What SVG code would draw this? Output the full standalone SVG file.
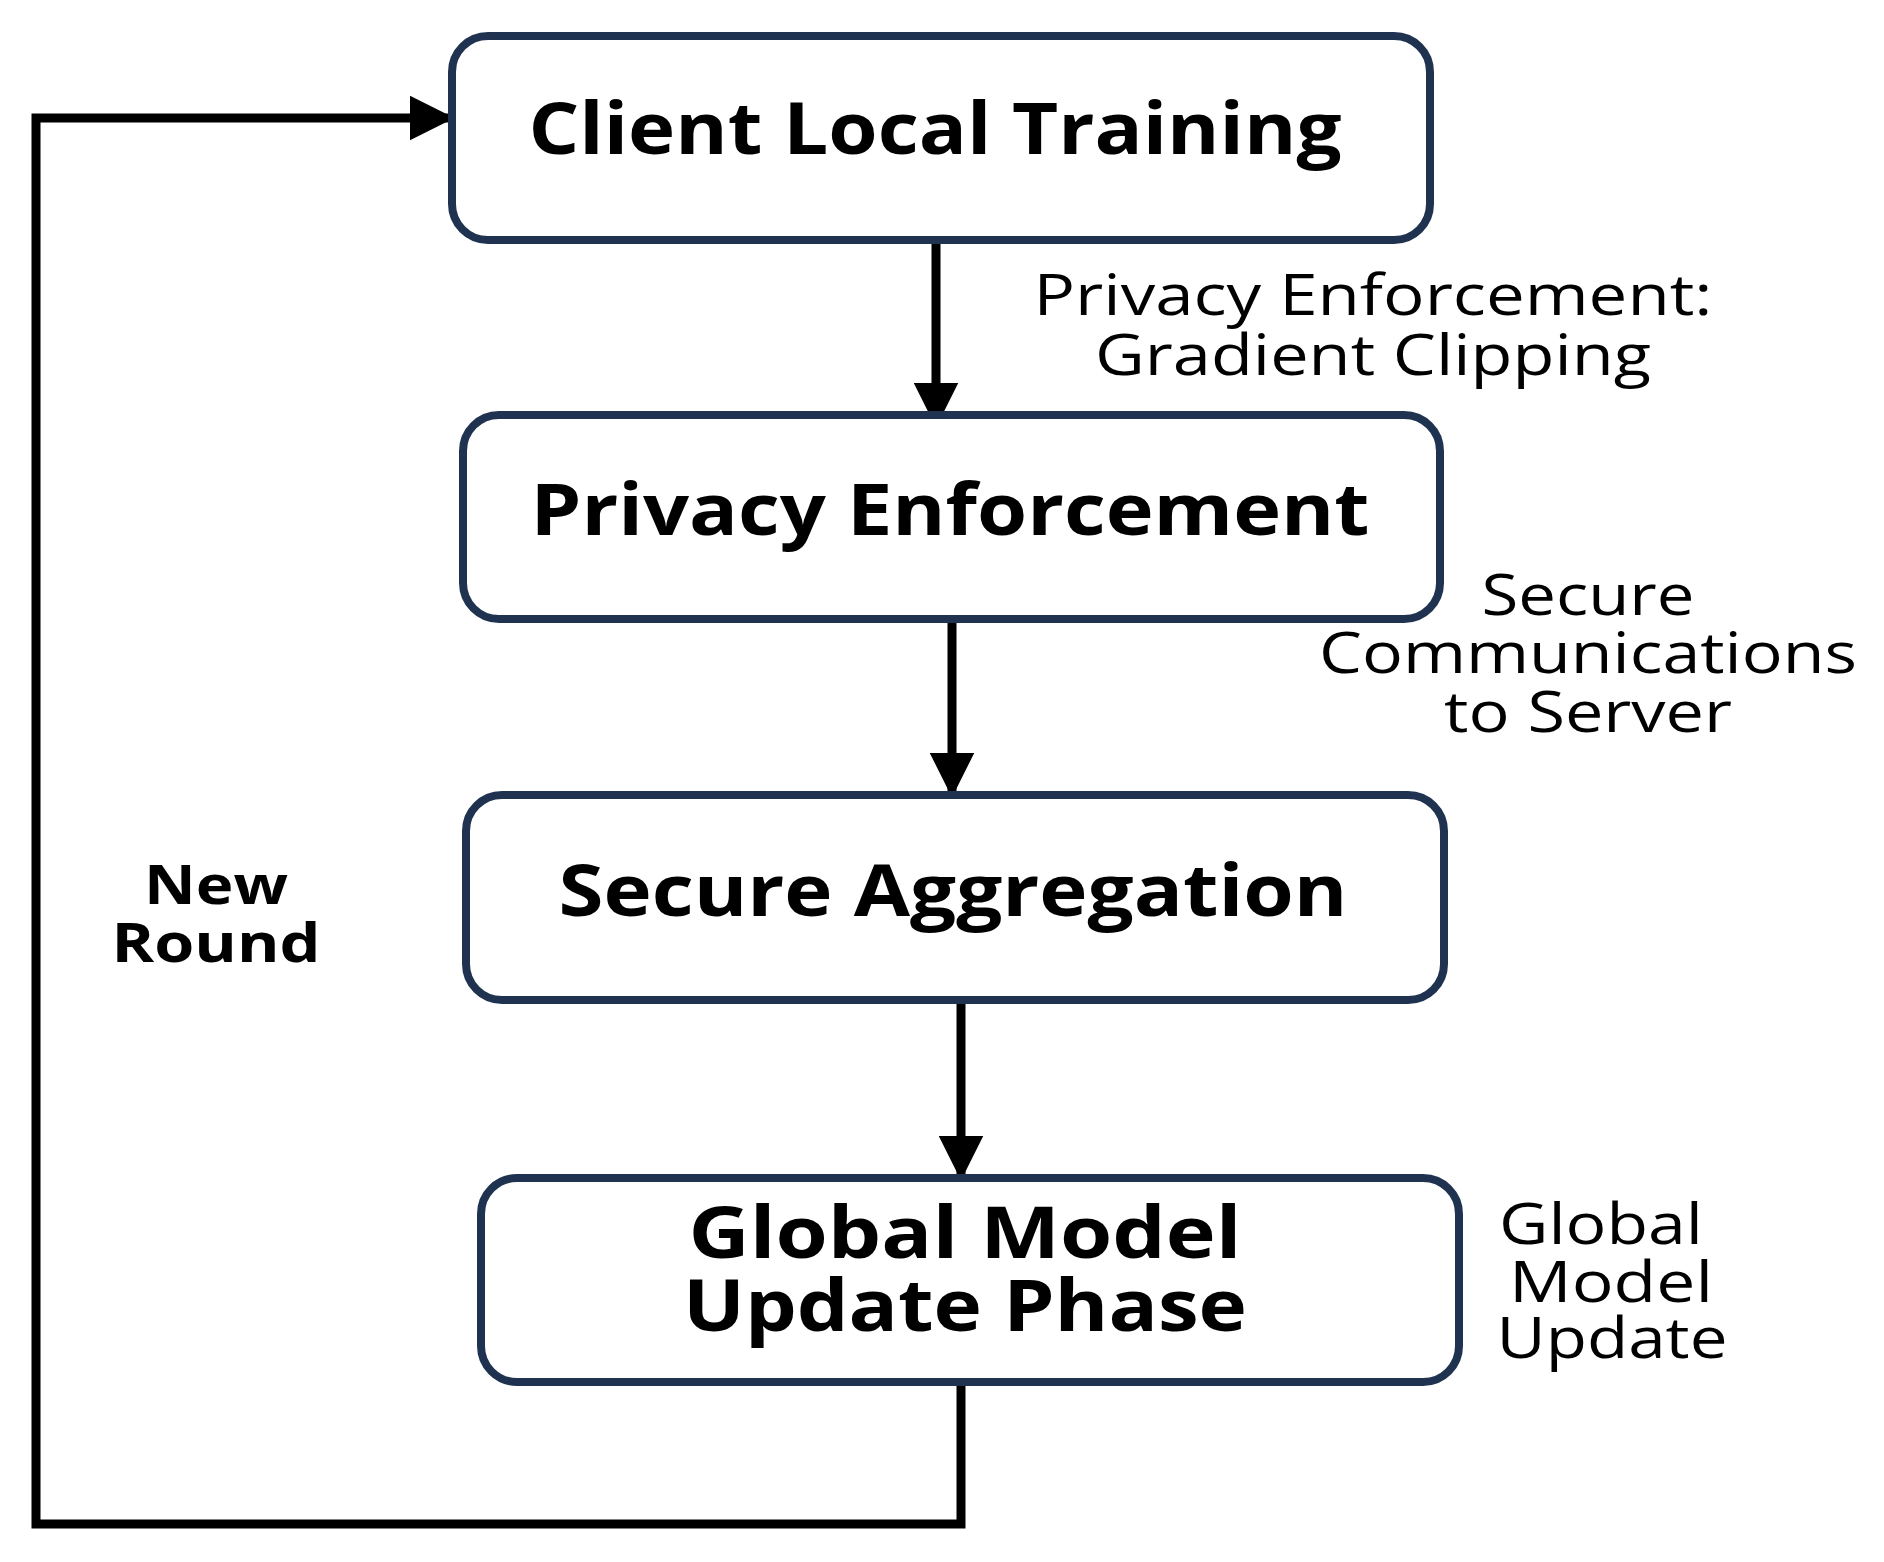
<svg xmlns="http://www.w3.org/2000/svg" width="1884" height="1562" viewBox="0 0 1884 1562">
<style>
.box{fill:#fff;stroke:#1f3350;stroke-width:8}
.t{font-family:"Open Sans","Liberation Sans",sans-serif;font-weight:bold;font-size:72px;fill:#000;text-anchor:middle}
.l{font-family:"Open Sans","Liberation Sans",sans-serif;font-size:56px;fill:#000;text-anchor:middle}
.lb{font-family:"Open Sans","Liberation Sans",sans-serif;font-weight:bold;font-size:54px;fill:#000;text-anchor:middle}
.c{fill:none;stroke:#000;stroke-width:9}
</style>
<defs><marker id="a" viewBox="0 0 10 10" refX="9" refY="5" markerWidth="5" markerHeight="5" orient="auto" markerUnits="strokeWidth"><path d="M0,0L10,5L0,10z" fill="#000"/></marker></defs>
<rect width="1884" height="1562" fill="#fff"/>
<g id="connectors">
<path class="c" d="M936,240V423" marker-end="url(#a)"/>
<path class="c" d="M952,619V793" marker-end="url(#a)"/>
<path class="c" d="M961,1000V1176" marker-end="url(#a)"/>
<path class="c" d="M961,1382V1524H36V118H450" marker-end="url(#a)"/>
</g>
<g id="n1"><rect class="box" x="452" y="36" width="978" height="204" rx="36"/><text class="t" x="935" y="154" textLength="813" lengthAdjust="spacingAndGlyphs">Client Local Training</text></g>
<g id="n2"><rect class="box" x="463" y="415" width="977" height="204" rx="36"/><text class="t" x="950" y="535" textLength="839" lengthAdjust="spacingAndGlyphs">Privacy Enforcement</text></g>
<g id="n3"><rect class="box" x="466" y="795" width="978" height="205" rx="36"/><text class="t" x="953" y="916" textLength="789" lengthAdjust="spacingAndGlyphs">Secure Aggregation</text></g>
<g id="n4"><rect class="box" x="481" y="1178" width="978" height="204" rx="36"/><text class="t" x="965" y="1258" textLength="553" lengthAdjust="spacingAndGlyphs">Global Model</text><text class="t" x="965" y="1331" textLength="564" lengthAdjust="spacingAndGlyphs">Update Phase</text></g>
<g id="labels">
<text class="l" x="1373" y="315" textLength="679" lengthAdjust="spacingAndGlyphs">Privacy Enforcement:</text>
<text class="l" x="1373" y="375" textLength="556" lengthAdjust="spacingAndGlyphs">Gradient Clipping</text>
<text class="l" x="1588" y="615" textLength="213" lengthAdjust="spacingAndGlyphs">Secure</text>
<text class="l" x="1588" y="673" textLength="538" lengthAdjust="spacingAndGlyphs">Communications</text>
<text class="l" x="1588" y="732" textLength="288" lengthAdjust="spacingAndGlyphs">to Server</text>
<text class="l" x="1601" y="1244" textLength="204" lengthAdjust="spacingAndGlyphs">Global</text>
<text class="l" x="1611" y="1302" textLength="204" lengthAdjust="spacingAndGlyphs">Model</text>
<text class="l" x="1612" y="1358" textLength="231" lengthAdjust="spacingAndGlyphs">Update</text>
<text class="lb" x="216" y="904" textLength="144" lengthAdjust="spacingAndGlyphs">New</text>
<text class="lb" x="216" y="962" textLength="209" lengthAdjust="spacingAndGlyphs">Round</text>
</g>
</svg>
